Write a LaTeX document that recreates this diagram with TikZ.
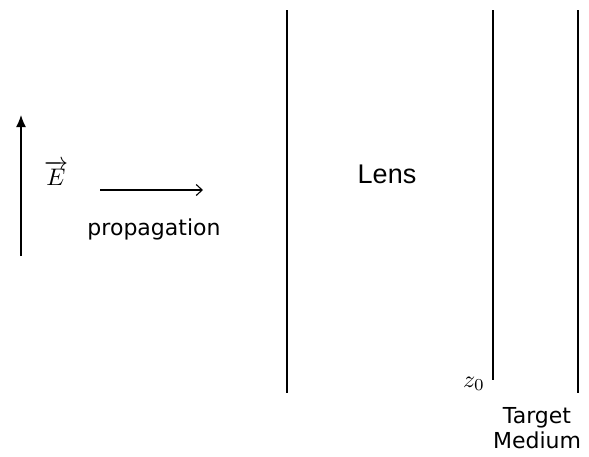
\documentclass[tikz,border=0pt]{standalone}
\usepackage{fontspec}
\usepackage{amsmath}
\usepackage{graphicx}
\setsansfont{DejaVu Sans}
\newfontfamily\lensfont{Liberation Sans}
\usetikzlibrary{arrows.meta}
\newcommand{\bigsym}[1]{\scalebox{2.4}{#1}}
\tikzset{
  plate/.style={line width=1.3pt},
  label/.style={font=\fontsize{22}{25}\selectfont\sffamily, inner sep=0pt},
  symb/.style={inner sep=0pt}
}
\begin{document}
\begin{tikzpicture}[x=1pt, y=-1pt]
  \useasboundingbox (0,0) rectangle (589,456);
  % field and propagation direction
  \coordinate (fieldtail) at (21,256);
  \coordinate (fieldtip) at (21,115);
  \draw[line width=1.3pt, -{Latex[length=12pt, width=10pt]}] (fieldtail) -- (fieldtip);
  \node[symb] (efield) at (56,173) {\bigsym{$\overrightarrow{E}$}};
  \coordinate (propstart) at (100,190);
  \coordinate (propend) at (203,190);
  \draw[line width=1.1pt, -{Straight Barb[length=6pt, width=11pt]}] (propstart) -- (propend);
  \node[label] (prop) at (154,229) {propagation};
  % lens and target medium
  \draw[plate] (287,10) -- (287,393);
  \draw[plate] (493,10) -- (493,380);
  \draw[plate] (578,10) -- (578,393);
  \node[font=\fontsize{27}{30}\selectfont\lensfont, inner sep=0pt] (lens) at (387,174) {Lens};
  \node[symb] (zzero) at (474,384) {\bigsym{$z_0$}};
  \node[label, align=center] (target) at (537,428) {Target\\Medium};
\end{tikzpicture}
\end{document}
